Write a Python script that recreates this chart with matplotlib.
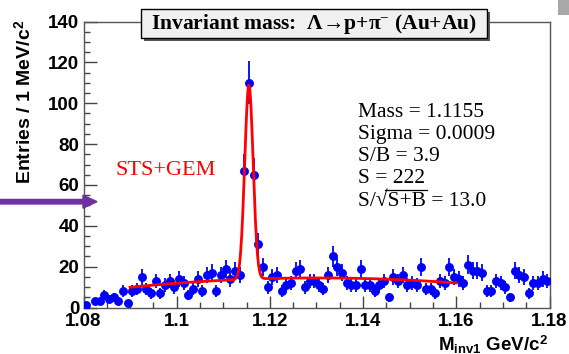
import numpy as np
import matplotlib
matplotlib.use("Agg")
from matplotlib import pyplot as plt
from matplotlib import patches
from matplotlib.lines import Line2D

# histogram: 100 bins of 1 MeV from 1.08 to 1.18
bin_lo = 1.08
bin_w = 0.001
counts = [1, 0, 3, 3, 6, 4, 5, 3, 8, 2,
          8, 9, 15, 9, 7, 13, 7, 11, 13, 10,
          14, 12, 6, 9, 14, 8, 16, 17, 8, 16,
          19, 14, 18, 16, 67, 110, 65, 31, 20, 10,
          15, 16, 8, 11, 12, 18, 19, 10, 13, 13,
          11, 9, 16, 25, 20, 17, 12, 11, 11, 19,
          11, 11, 8, 11, 13, 5, 15, 13, 16, 11,
          12, 11, 20, 9, 9, 7, 13, 12, 20, 15,
          14, 12, 21, 18, 18, 17, 8, 8, 13, 12,
          10, 5, 18, 16, 15, 7, 12, 12, 14, 13]

# fit (gaus + pol2) parameters
fit_range = (1.09, 1.16)
fit_mass = 1.1155
fit_sigma = 0.0009
fit_amp = 95.0
bg_ref = 1.125
bg_coef = [14.4, 30.0, -2816.0]

stats_lines = ["Mass = 1.1155", "Sigma = 0.0009", "S/B = 3.9", "S = 222",
               "S/\u221aS+B = 13.0"]
title_txt = "Invariant mass:  \u039b\u2192p+\u03c0$^{-}$ (Au+Au)"

plt.rcParams['mathtext.fontset'] = 'custom'
plt.rcParams['mathtext.rm'] = 'Liberation Serif'
plt.rcParams['mathtext.it'] = 'Liberation Serif:italic'
plt.rcParams['mathtext.bf'] = 'Liberation Sans:bold'
plt.rcParams['mathtext.sf'] = 'Liberation Sans'

W, H = 569, 354
fig = plt.figure(figsize=(W / 100, H / 100), dpi=100)

def fx(x):
    return x / W

def fy(y):
    return 1 - y / H

ax = fig.add_axes([fx(83.5), fy(307.5), (549.5 - 83.5) / W, (307.5 - 21.5) / H])

c = np.array(counts, dtype=float)
centers = bin_lo + bin_w * (np.arange(len(c)) + 0.5)
err = np.sqrt(c)
m = c > 0
ax.errorbar(centers[m], c[m], yerr=err[m], fmt='o', color='#0000ff', ms=5.4,
            elinewidth=1.3, capsize=0, zorder=3)

xf = np.linspace(fit_range[0], fit_range[1], 600)
d = xf - bg_ref
bg = bg_coef[0] + bg_coef[1] * d + bg_coef[2] * d ** 2
yf = bg + fit_amp * np.exp(-0.5 * ((xf - fit_mass) / fit_sigma) ** 2)
ax.plot(xf, yf, color='#ff0000', lw=2.0, zorder=4)

ax.set_xlim(1.08, 1.18)
ax.set_ylim(0, 140)
ax.set_xticks([1.08, 1.10, 1.12, 1.14, 1.16, 1.18])
ax.set_xticklabels(['1.08', '1.1', '1.12', '1.14', '1.16', '1.18'])
ax.set_xticks(np.arange(1.08, 1.1801, 0.005), minor=True)
ax.set_yticks(np.arange(0, 141, 20))
ax.set_yticks(np.arange(0, 141, 5), minor=True)
for s in ax.spines.values():
    s.set_color('#555555')
    s.set_linewidth(1.0)
ax.tick_params(which='both', direction='in', top=False, right=False,
               color='#444444', width=1.0)
ax.tick_params(which='major', length=9, pad=4)
ax.tick_params(which='minor', length=4.5)
ax.tick_params(axis='y', which='major', pad=3)
for lab in ax.get_xticklabels() + ax.get_yticklabels():
    lab.set_fontfamily('Liberation Sans')
    lab.set_fontweight('bold')
    lab.set_fontsize(13.5)

fig.text(fx(25), fy(102), "Entries / 1 MeV/c$^{\\mathbf{2}}$", rotation=90,
         ha='center', va='center', fontsize=14, fontweight='bold',
         fontfamily='Liberation Sans')
fig.text(fx(548), fy(351.5), "M$_{\\mathbf{inv1}}$ GeV/c$^{\\mathbf{2}}$",
         ha='right', va='baseline', fontsize=13.5, fontweight='bold',
         fontfamily='Liberation Sans')

# title box with shadow
fig.patches.append(patches.Rectangle((fx(143.5), fy(41)), (346) / W, (29) / H,
                                     transform=fig.transFigure, facecolor='#555555',
                                     edgecolor='none', zorder=5))
fig.patches.append(patches.Rectangle((fx(140.5), fy(38)), (346) / W, (29) / H,
                                     transform=fig.transFigure, facecolor='#f0f0f0',
                                     edgecolor='black', lw=1.0, zorder=6))
fig.text(fx(314), fy(23.5), title_txt, ha='center', va='center', fontsize=15.5,
         fontweight='bold', fontfamily='Liberation Serif', zorder=7)

# stats text
for i, t in enumerate(stats_lines):
    fig.text(fx(358), fy(116.7 + 22.2 * i), t, ha='left', va='baseline',
             fontsize=15.5, fontfamily='Liberation Serif')
fig.lines.append(Line2D([fx(385), fx(427)], [fy(190), fy(190)],
                        transform=fig.transFigure, color='black', lw=0.9))

fig.text(fx(115), fy(175), "STS+GEM", ha='left', va='baseline', fontsize=16,
         color='#ff0000', fontfamily='Liberation Serif')

# purple arrow
fig.patches.append(patches.FancyArrow(0, fy(201.7), fx(97), 0, width=4.5 / H,
                                      head_width=13 / H, head_length=14 / W,
                                      length_includes_head=True,
                                      transform=fig.transFigure,
                                      color='#7030a0', zorder=8))

# grey corner fragment top right
fig.patches.append(patches.Rectangle((fx(558), fy(15)), 11 / W, 15 / H,
                                     transform=fig.transFigure, facecolor='#a8a8a8',
                                     edgecolor='none'))

fig.savefig("out.png", dpi=100)
